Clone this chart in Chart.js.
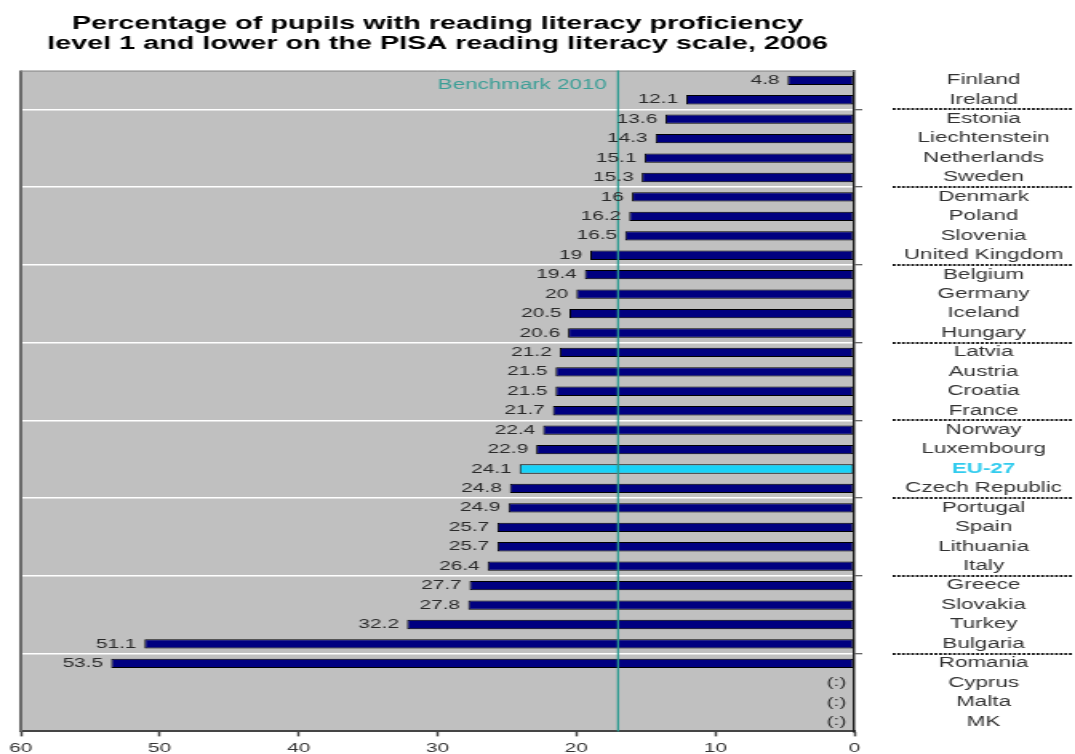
<!DOCTYPE html>
<html><head><meta charset="utf-8">
<script src="https://cdn.jsdelivr.net/npm/chart.js@4.4.1/dist/chart.umd.min.js"></script>
<style>html,body{margin:0;padding:0;background:#fff;overflow:hidden}canvas{display:block}</style>
</head><body>
<canvas id="c" width="672" height="754" style="width:1075px;height:754px"></canvas>
<script>
const titleLines = ['Percentage of pupils with reading literacy proficiency', 'level 1 and lower on the PISA reading literacy scale, 2006'];
const categories = ['Finland','Ireland','Estonia','Liechtenstein','Netherlands','Sweden','Denmark','Poland','Slovenia','United Kingdom','Belgium','Germany','Iceland','Hungary','Latvia','Austria','Croatia','France','Norway','Luxembourg','EU-27','Czech Republic','Portugal','Spain','Lithuania','Italy','Greece','Slovakia','Turkey','Bulgaria','Romania','Cyprus','Malta','MK'];
const values = [4.8,12.1,13.6,14.3,15.1,15.3,16,16.2,16.5,19,19.4,20,20.5,20.6,21.2,21.5,21.5,21.7,22.4,22.9,24.1,24.8,24.9,25.7,25.7,26.4,27.7,27.8,32.2,51.1,53.5,null,null,null];
const highlighted = ['EU-27'];
const benchmark = [17];
const benchmarkLabel = ['Benchmark 2010'];
const missingLabel = ['(:)'];
const xRange = [0, 60];
const xStep = [10];

const FONT = "'Liberation Sans', Arial, sans-serif";
const groupLine = i => i % 4 === 2 && i < categories.length;

const decor = {
  id: 'decor',
  beforeDraw(chart) {
    const {ctx, chartArea: a} = chart;
    ctx.save();
    ctx.fillStyle = '#c0c0c0';
    ctx.fillRect(a.left, a.top, a.right - a.left, a.bottom - a.top);
    ctx.restore();
  },
  afterDatasetsDraw(chart) {
    const {ctx, chartArea: a, scales: {x, y}} = chart;
    ctx.save();
    ctx.strokeStyle = '#6a6a6a'; ctx.lineWidth = 2;
    ctx.beginPath(); ctx.moveTo(a.left, a.top); ctx.lineTo(a.left, a.bottom); ctx.stroke();
    ctx.strokeStyle = '#8a8a8a'; ctx.lineWidth = 1;
    ctx.beginPath(); ctx.moveTo(a.left, a.top + 0.5); ctx.lineTo(a.right, a.top + 0.5); ctx.stroke();
    const bx = x.getPixelForValue(benchmark[0]);
    ctx.strokeStyle = '#2a9a90'; ctx.lineWidth = 1.3;
    ctx.beginPath(); ctx.moveTo(bx, a.top); ctx.lineTo(bx, a.bottom); ctx.stroke();
    ctx.fillStyle = '#3a9e96'; ctx.font = '14px ' + FONT;
    ctx.textAlign = 'right'; ctx.textBaseline = 'middle';
    ctx.fillText(benchmarkLabel[0], bx - 7, a.top + 15);
    ctx.fillStyle = '#2a2a2a'; ctx.font = '13px ' + FONT;
    values.forEach((v, i) => {
      const py = y.getPixelForValue(i);
      const px = x.getPixelForValue(v == null ? 0 : v) - 5;
      ctx.fillText(v == null ? missingLabel[0] : String(v), px, py);
    });
    ctx.strokeStyle = '#151515'; ctx.lineWidth = 2; ctx.setLineDash([1.8, 1.1]);
    const step = y.getPixelForValue(1) - y.getPixelForValue(0);
    for (let i = 0; i <= categories.length; i++) {
      if (!groupLine(i)) continue;
      const ly = Math.round(y.getPixelForValue(i) - step / 2);
      ctx.beginPath(); ctx.moveTo(558, ly); ctx.lineTo(671, ly); ctx.stroke();
    }
    ctx.restore();
  }
};

new Chart(document.getElementById('c'), {
  type: 'bar',
  data: {
    labels: categories,
    datasets: [{
      data: values,
      backgroundColor: categories.map(c => highlighted.includes(c) ? '#19d2f7' : '#000080'),
      borderColor: '#000',
      borderWidth: 1,
      borderSkipped: false,
      barPercentage: 0.48,
      categoryPercentage: 1
    }]
  },
  options: {
    indexAxis: 'y',
    responsive: false,
    devicePixelRatio: 1,
    animation: false,
    events: [],
    layout: {padding: {left: 13, right: 0, top: 0, bottom: -6}},
    plugins: {
      legend: {display: false},
      tooltip: {enabled: false},
      title: {
        display: true, fullSize: false,
        text: titleLines,
        color: '#000',
        font: {family: FONT, size: 18, weight: 'bold', lineHeight: 1.1},
        padding: {top: 14, bottom: 17}
      }
    },
    scales: {
      x: {
        min: xRange[0], max: xRange[1], reverse: true,
        ticks: {stepSize: xStep[0], color: '#333', font: {family: FONT, size: 13}, padding: 4},
        grid: {drawOnChartArea: false, drawTicks: true, tickLength: 5, tickColor: '#444', tickWidth: 1.5},
        border: {display: true, color: '#454545', width: 2}
      },
      y: {
        position: 'right',
        afterFit(s) { s.width = 138; s.paddingTop = 0; s.paddingBottom = 0; },
        ticks: {
          crossAlign: 'center', padding: 26, autoSkip: false,
          color: c => highlighted.includes(categories[c.index]) ? '#33ccee' : '#333',
          font: c => ({family: FONT, size: 14, weight: highlighted.includes(categories[c.index]) ? 'bold' : 'normal'})
        },
        grid: {
          offset: true, drawOnChartArea: true, drawTicks: true, tickLength: 5,
          color: c => (c.index % 4 === 2) ? '#ffffff' : 'rgba(0,0,0,0)',
          tickColor: c => (c.index % 4 === 2) ? '#333' : 'rgba(0,0,0,0)',
          lineWidth: 1.5, tickWidth: 1
        },
        border: {display: true, color: '#222', width: 1.5}
      }
    }
  },
  plugins: [decor]
});
</script>
</body></html>
